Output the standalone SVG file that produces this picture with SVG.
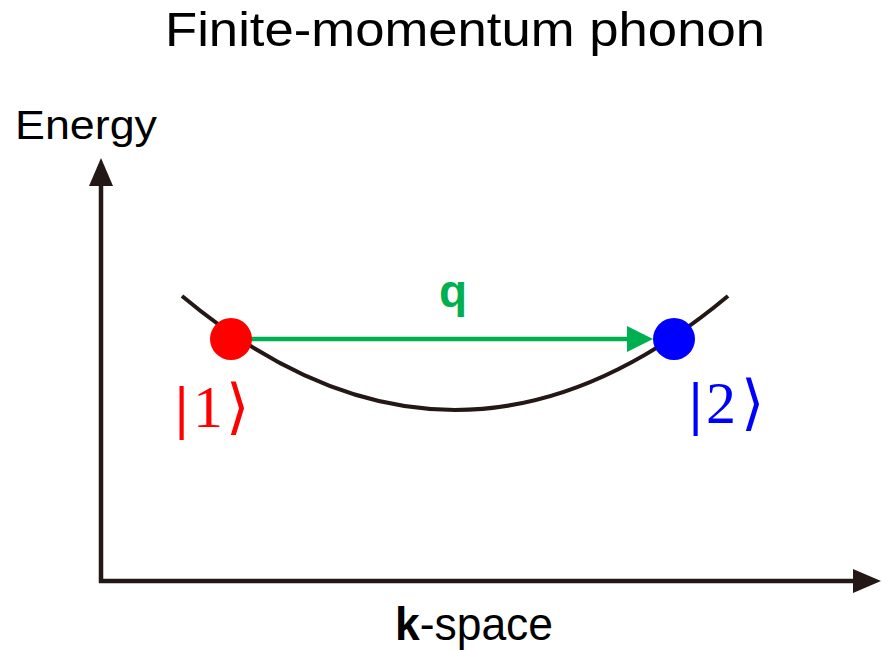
<svg xmlns="http://www.w3.org/2000/svg" width="882" height="650" viewBox="0 0 882 650">
  <style>
    .sans { font-family: "Liberation Sans", Arial, sans-serif; fill: #000000; }
    .ket { font-family: "Liberation Serif", "DejaVu Serif", serif; font-size: 60px; }
    .axis { stroke: #231815; stroke-width: 4.5; fill: none; }
    .curve { stroke: #231815; stroke-width: 4; fill: none; }
    .qline { stroke: #00B050; stroke-width: 4.5; fill: none; }
  </style>
  <defs>
    <marker id="axisHead" markerUnits="userSpaceOnUse" viewBox="0 0 28 24" markerWidth="28" markerHeight="24" refX="1" refY="12" orient="auto">
      <path d="M0,0 L28,12 L0,24 z" fill="#231815"/>
    </marker>
    <marker id="qHead" markerUnits="userSpaceOnUse" viewBox="0 0 26 26" markerWidth="26" markerHeight="26" refX="1" refY="13" orient="auto">
      <path d="M0,0 L26,13 L0,26 z" fill="#00B050"/>
    </marker>
  </defs>
  <rect width="882" height="650" fill="#ffffff"/>

  <text id="title" class="sans" x="165" y="46" font-size="49" textLength="600" lengthAdjust="spacingAndGlyphs">Finite-momentum phonon</text>

  <g id="axes">
    <line class="axis" x1="101" y1="583" x2="101" y2="185" marker-end="url(#axisHead)"/>
    <line class="axis" x1="99" y1="581" x2="854" y2="581" marker-end="url(#axisHead)"/>
    <text class="sans" x="15" y="139" font-size="40" textLength="142" lengthAdjust="spacingAndGlyphs">Energy</text>
    <text class="sans" x="395" y="640" font-size="46" textLength="158" lengthAdjust="spacingAndGlyphs"><tspan font-weight="bold">k</tspan>-space</text>
  </g>

  <g id="band">
    <path class="curve" d="M182,296 Q455,524 728,296"/>
  </g>

  <g id="connectors">
    <line class="qline" x1="231" y1="339" x2="628" y2="339" marker-end="url(#qHead)"/>
    <text x="453" y="307" text-anchor="middle" font-family="'Liberation Sans', Arial, sans-serif" font-weight="bold" font-size="46" fill="#00B050">q</text>
  </g>

  <g id="state1">
    <circle cx="231" cy="339" r="21" fill="#FF0000"/>
    <text class="ket" fill="#FF0000" y="427"><tspan x="175" font-weight="bold">|</tspan><tspan x="193">1</tspan><tspan x="226">⟩</tspan></text>
  </g>

  <g id="state2">
    <circle cx="674" cy="339" r="21" fill="#0000FF"/>
    <text class="ket" fill="#0000FF" y="423"><tspan x="689" font-weight="bold">|</tspan><tspan x="706">2</tspan><tspan x="741">⟩</tspan></text>
  </g>
</svg>
